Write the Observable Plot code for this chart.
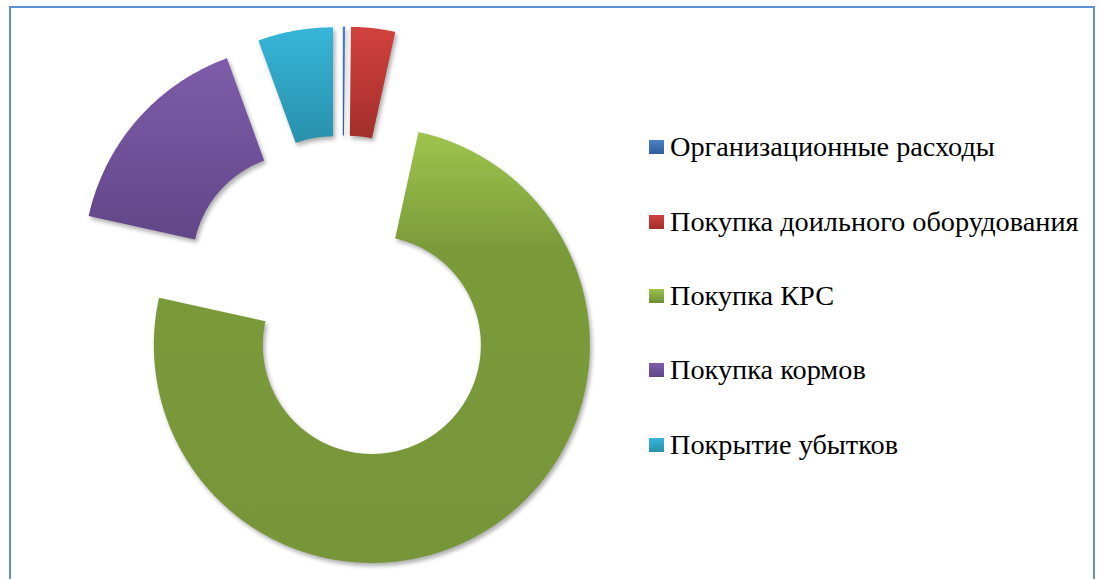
<!DOCTYPE html>
<html><head><meta charset="utf-8">
<script src="https://cdn.jsdelivr.net/npm/d3@7"></script>
<script src="https://cdn.jsdelivr.net/npm/@observablehq/plot@0.6"></script>
<style>
body{margin:0;background:#fff;}
#wrap{position:relative;width:1098px;height:579px;overflow:hidden;background:#fff;}
#frame{position:absolute;left:9px;top:6px;width:1086px;height:640px;border:2px solid #5E8FD5;box-sizing:border-box;}
#chart{position:absolute;left:0;top:0;}
#legend{position:absolute;left:649px;top:110px;color:#000;}
.row{display:flex;align-items:center;height:74.4px;white-space:nowrap;}
.sw{width:15px;height:14px;margin-right:6px;flex:none;}
#chart g[aria-label="line"] path{filter:drop-shadow(2px 3px 2px rgba(0,0,0,0.32));}
</style></head>
<body>
<svg width="0" height="0" style="position:absolute">
<defs>
<linearGradient id="g0" x1="0" y1="0" x2="0" y2="1"><stop offset="0" stop-color="#4A7FC4"/><stop offset="1" stop-color="#2F5E9C"/></linearGradient>
<linearGradient id="g1" x1="0" y1="0" x2="0" y2="1"><stop offset="0" stop-color="#D2423E"/><stop offset="1" stop-color="#A32E2B"/></linearGradient>
<linearGradient id="g2" x1="0" y1="0" x2="0" y2="1"><stop offset="0" stop-color="#9EC44D"/><stop offset="0.27" stop-color="#7B9B3A"/><stop offset="1" stop-color="#779539"/></linearGradient>
<linearGradient id="g3" x1="0" y1="0" x2="0" y2="1"><stop offset="0" stop-color="#7E5CA9"/><stop offset="1" stop-color="#624689"/></linearGradient>
<linearGradient id="g4" x1="0" y1="0" x2="0" y2="1"><stop offset="0" stop-color="#37B5D8"/><stop offset="1" stop-color="#2891AC"/></linearGradient>
</defs>
</svg>
<div id="wrap">
  <div id="frame"></div>
  <div id="chart"></div>
  <div id="legend" style="font-family:'Liberation Serif',serif;font-size:28.3px"></div>
</div>
<script>
const categories = ["Организационные расходы","Покупка доильного оборудования","Покупка КРС","Покупка кормов","Покрытие убытков"];
const shares = [0.17, 3.26, 75.04, 15.97, 5.56];
const legendTop = ["#4A7FC4","#D2423E","#9EC44D","#7E5CA9","#37B5D8"];
const legendBottom = ["#2F5E9C","#A32E2B","#6E8E33","#624689","#2891AC"];

const innerRatio = 0.5;   // hole size
const explode = 0.25;     // explosion, fraction of radius

const arcs = d3.pie().sort(null).value(d => d)(shares);
const slices = arcs.map((a, i) => {
  const mid = (a.startAngle + a.endAngle) / 2;
  const ox = explode * Math.sin(mid), oy = explode * Math.cos(mid);
  const n = Math.max(3, Math.ceil((a.endAngle - a.startAngle) / 0.005));
  const pts = [];
  for (let k = 0; k <= n; k++) {
    const t = a.startAngle + (a.endAngle - a.startAngle) * k / n;
    pts.push({x: ox + Math.sin(t), y: oy + Math.cos(t), name: categories[i]});
  }
  for (let k = n; k >= 0; k--) {
    const t = a.startAngle + (a.endAngle - a.startAngle) * k / n;
    pts.push({x: ox + innerRatio * Math.sin(t), y: oy + innerRatio * Math.cos(t), name: categories[i]});
  }
  return pts;
});

const cx = 342, cy = 298.5, R = 218;
const plot = Plot.plot({
  width: 1098, height: 579, margin: 0,
  style: {background: "transparent", overflow: "visible"},
  x: {domain: [-1, 1], range: [cx - R, cx + R], axis: null},
  y: {domain: [-1, 1], range: [cy + R, cy - R], axis: null},
  marks: slices.map((pts, i) => Plot.line(pts, {x: "x", y: "y", fill: `url(#g${i})`, stroke: "none", curve: "linear"}))
});
document.getElementById("chart").appendChild(plot);

const leg = document.getElementById("legend");
categories.forEach((c, i) => {
  const row = document.createElement("div");
  row.className = "row";
  const sw = document.createElement("div");
  sw.className = "sw";
  sw.style.background = `linear-gradient(${legendTop[i]}, ${legendBottom[i]})`;
  const tx = document.createElement("span");
  tx.style.fontFamily = "'Liberation Serif', serif";
  tx.textContent = c;
  row.appendChild(sw); row.appendChild(tx);
  leg.appendChild(row);
});
</script>
</body></html>
